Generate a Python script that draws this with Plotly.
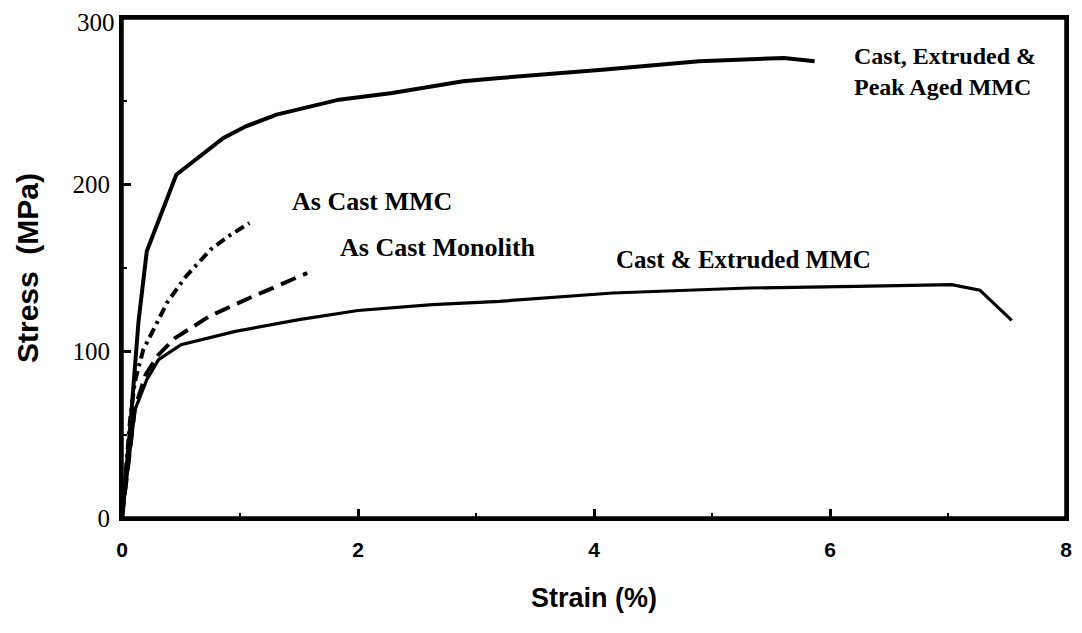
import plotly.graph_objects as go

# Strain (%) / Stress (MPa)
peak_x = [0, 0.07, 0.14, 0.21, 0.46, 0.86, 1.05, 1.31, 1.84, 2.29, 2.89, 3.2, 4.07, 4.89, 5.61, 5.87]
peak_y = [0, 55, 118, 160, 206, 228, 235, 242, 251, 255, 262, 264, 269, 274, 276, 274]

cast_ext_x = [0, 0.11, 0.21, 0.31, 0.5, 0.96, 1.5, 2.0, 2.63, 3.2, 4.16, 5.31, 6.22, 7.03, 7.27, 7.54]
cast_ext_y = [0, 65, 83, 95, 104, 112, 119, 124.5, 128, 130, 135, 138, 139, 140, 136.7, 118.6]

monolith_x = [0, 0.11, 0.2, 0.31, 0.45, 0.6, 0.74, 1.08, 1.3, 1.57]
monolith_y = [0, 66, 86, 98, 108, 115, 121, 132, 139, 147]

as_cast_x = [0, 0.07, 0.11, 0.18, 0.31, 0.38, 0.53, 0.75, 0.9, 1.08]
as_cast_y = [0, 60, 82, 101, 119, 129, 144, 161, 169, 177]

x_ticks = [0, 2, 4, 6, 8]
y_ticks = [0, 100, 200]
y_top = 300  # top tick label, drawn as annotation so it is not clipped at the page edge

labels = ["Cast, Extruded &<br>Peak Aged MMC", "As Cast MMC", "As Cast Monolith", "Cast & Extruded MMC"]
label_x = [6.19, 2.12, 2.68, 5.27]
label_y = [268, 190, 162.4, 155]
label_size = [24, 26, 26, 25]
label_anchor = ["left", "center", "center", "center"]

fig = go.Figure()
fig.add_trace(go.Scatter(x=peak_x, y=peak_y, mode="lines",
                         line=dict(color="black", width=4), name="Cast, Extruded & Peak Aged MMC"))
fig.add_trace(go.Scatter(x=cast_ext_x, y=cast_ext_y, mode="lines",
                         line=dict(color="black", width=3.2), name="Cast & Extruded MMC"))
fig.add_trace(go.Scatter(x=monolith_x, y=monolith_y, mode="lines",
                         line=dict(color="black", width=4, dash="16px,8px"), name="As Cast Monolith"))
fig.add_trace(go.Scatter(x=as_cast_x, y=as_cast_y, mode="lines",
                         line=dict(color="black", width=4, dash="10px,5px,3px,5px"), name="As Cast MMC"))

serif = "Liberation Serif, Times New Roman, serif"
sans = "Liberation Sans, Arial, sans-serif"

for t, x, y, a, s in zip(labels, label_x, label_y, label_anchor, label_size):
    fig.add_annotation(x=x, y=y, text="<b>" + t + "</b>", showarrow=False,
                       xanchor=a, yanchor="middle", align="left",
                       font=dict(family=serif, size=s, color="black"))

fig.add_annotation(x=0, xref="paper", xanchor="right", xshift=-5,
                   y=y_top, yref="y", yanchor="middle", yshift=-4,
                   text=str(y_top), showarrow=False,
                   font=dict(family=serif, size=25, color="black"))

# frame around the plotting area
fig.add_shape(type="rect", xref="paper", yref="paper", x0=0, x1=1, y0=0, y1=1,
              line=dict(color="black", width=3.5), layer="above")

# page body adds an 8px margin, so the figure is 8px smaller and shifted
fig.update_layout(
    width=1074, height=625,
    margin=dict(l=114, r=16, t=10, b=115, autoexpand=False),
    paper_bgcolor="white", plot_bgcolor="white",
    showlegend=False,
)
fig.update_xaxes(
    range=[0, 8], tickvals=x_ticks, ticktext=[str(v) for v in x_ticks],
    showgrid=False, zeroline=False, automargin=False,
    showline=True, linecolor="black", linewidth=3, mirror=True,
    ticks="inside", ticklen=9, tickwidth=2.5, tickcolor="black",
    minor=dict(dtick=1, tick0=0, ticks="inside", ticklen=5, tickwidth=2, tickcolor="black", showgrid=False),
    tickfont=dict(family=sans, size=21, color="black", weight="bold"),
    ticklabelstandoff=11, ticklabeloverflow="allow",
    title=dict(text="<b>Strain (%)</b>", font=dict(family=sans, size=27, color="black"), standoff=28),
)
fig.update_yaxes(
    range=[0, 300], tickvals=y_ticks, ticktext=[str(v) for v in y_ticks],
    showgrid=False, zeroline=False, automargin=False,
    showline=True, linecolor="black", linewidth=3, mirror=True,
    ticks="inside", ticklen=9, tickwidth=2.5, tickcolor="black",
    minor=dict(dtick=50, tick0=0, ticks="inside", ticklen=5, tickwidth=2, tickcolor="black", showgrid=False),
    tickfont=dict(family=serif, size=25, color="black"),
    ticklabelstandoff=4, ticklabeloverflow="allow",
    title=dict(text="<b>Stress  (MPa)</b>", font=dict(family=sans, size=30, color="black"), standoff=26),
)

fig.write_html("out.html")
